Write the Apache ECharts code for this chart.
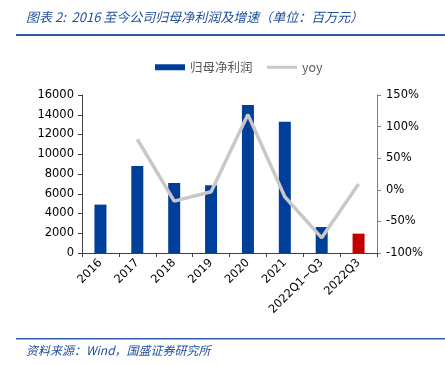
<!DOCTYPE html>
<html>
<head>
<meta charset="utf-8">
<script src="https://cdn.jsdelivr.net/npm/echarts@6/dist/echarts.min.js"></script>
<style>
  html, body { margin: 0; padding: 0; background: #fff; }
  #chart { width: 445px; height: 365px; }
</style>
</head>
<body>
<div id="chart"></div>
<script>
// 数据
const categories = ['2016', '2017', '2018', '2019', '2020', '2021', '2022Q1~Q3', '2022Q3'];
const profit = [4900, 8800, 7100, 6850, 15000, 13300, 2630, 1960]; // 归母净利润（百万元）
const yoy = [null, 80, -18, -3, 119, -11, -76, 9]; // 增速 %
const leftTicks = { min: 0, max: 16000, interval: 2000 };
const rightTicks = { min: -100, max: 150, interval: 50 };

const blue = '#003f99';
const red = '#c00000';
const gray = '#c8c8c8';
const titleBlue = '#1f4e9a';
const labelFont = 'DejaVu Sans';
const legendText = { color: '#595959', fontSize: 12.5, fontFamily: 'Noto Sans CJK SC' };

const myChart = echarts.init(document.getElementById('chart'));

const option = {
  animation: false,
  graphic: [
    {
      type: 'text', left: 26, top: 11,
      style: {
        text: '图表 2:  2016 至今公司归母净利润及增速（单位：百万元）',
        fill: titleBlue,
        font: 'italic 13px "Noto Sans CJK SC"'
      }
    },
    { type: 'rect', shape: { x: 16, y: 34, width: 429, height: 2 }, style: { fill: '#2e5fa3' } },
    { type: 'rect', shape: { x: 16, y: 338, width: 429, height: 1.5 }, style: { fill: '#2e5fa3' } },
    {
      type: 'text', left: 26, top: 344,
      style: {
        text: '资料来源：Wind，国盛证券研究所',
        fill: titleBlue,
        font: 'italic 12px "Noto Sans CJK SC"'
      }
    }
  ],
  // 两个图例：柱子和折线的图标粗细不同
  legend: [
    {
      left: 150, top: 56,
      itemWidth: 30, itemHeight: 6,
      textStyle: legendText,
      data: [{ name: '归母净利润', icon: 'rect' }]
    },
    {
      left: 262, top: 56,
      itemWidth: 30, itemHeight: 3,
      textStyle: legendText,
      data: [{ name: 'yoy', icon: 'rect', itemStyle: { color: gray } }]
    }
  ],
  grid: { left: 82, right: 68, top: 95, bottom: 112 },
  xAxis: {
    type: 'category',
    data: categories,
    axisLine: { lineStyle: { color: '#404040', width: 1 } },
    axisTick: { show: true, length: 4, lineStyle: { color: '#404040' } },
    axisLabel: { rotate: 45, color: '#000', fontSize: 11.5, fontFamily: labelFont, margin: 8, interval: 0 }
  },
  yAxis: [
    {
      type: 'value',
      min: leftTicks.min, max: leftTicks.max, interval: leftTicks.interval,
      axisLine: { show: true, lineStyle: { color: '#404040' } },
      axisTick: { show: true, length: 4, lineStyle: { color: '#404040' } },
      axisLabel: { color: '#000', fontSize: 11.5, fontFamily: labelFont, margin: 8, formatter: v => String(v) },
      splitLine: { show: false }
    },
    {
      type: 'value',
      min: rightTicks.min, max: rightTicks.max, interval: rightTicks.interval,
      axisLine: { show: true, lineStyle: { color: '#808080' } },
      axisTick: { show: true, length: 4, lineStyle: { color: '#808080' } },
      axisLabel: { color: '#000', fontSize: 11.5, fontFamily: labelFont, margin: 9, formatter: '{value}%' },
      splitLine: { show: false }
    }
  ],
  series: [
    {
      name: '归母净利润',
      type: 'bar',
      barWidth: 12,
      itemStyle: { color: blue },
      data: profit.map((v, i) => i === profit.length - 1 ? { value: v, itemStyle: { color: red } } : v)
    },
    {
      name: 'yoy',
      type: 'line',
      yAxisIndex: 1,
      symbol: 'none',
      lineStyle: { color: gray, width: 3.5 },
      itemStyle: { color: gray },
      data: yoy
    }
  ]
};

myChart.setOption(option);
</script>
</body>
</html>
